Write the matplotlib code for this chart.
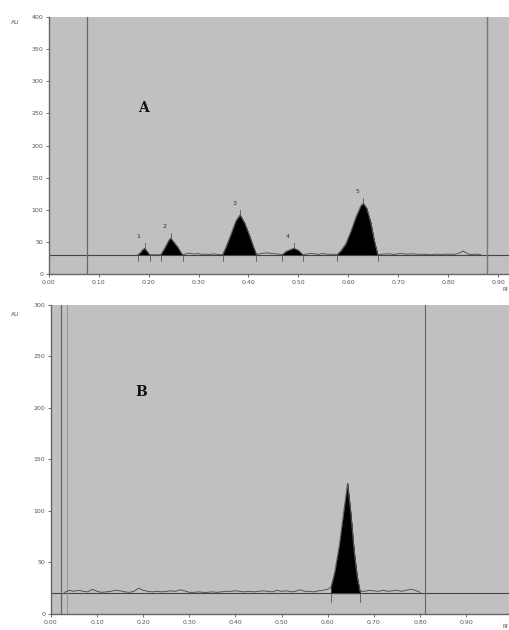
import matplotlib
matplotlib.use("Agg")
import matplotlib.pyplot as plt
import numpy as np

# ---------------- Data ----------------
# Panel A densitogram trace (Rf, AU)
a_x = [0.178, 0.183, 0.188, 0.192, 0.197, 0.202,
       0.224, 0.232, 0.240, 0.244, 0.250, 0.258, 0.265, 0.268,
       0.275, 0.282, 0.290, 0.298, 0.306, 0.314, 0.322, 0.330, 0.338,
       0.348, 0.355, 0.365, 0.375, 0.383, 0.392, 0.402, 0.410, 0.416,
       0.422, 0.430, 0.438, 0.446, 0.454, 0.462,
       0.467, 0.475, 0.485, 0.491, 0.500, 0.509,
       0.516, 0.524, 0.532, 0.540, 0.548, 0.556, 0.564, 0.572,
       0.577, 0.585, 0.595, 0.605, 0.615, 0.625, 0.630, 0.637, 0.645, 0.652, 0.659,
       0.668, 0.680, 0.692, 0.704, 0.716, 0.728, 0.740, 0.752, 0.764, 0.776,
       0.788, 0.800, 0.812, 0.820, 0.826, 0.830, 0.834, 0.840, 0.848, 0.856, 0.865]
a_y = [30, 33, 38, 40, 35, 30,
       30, 40, 52, 56, 50, 42, 33, 30,
       31.5, 32.5, 31, 32, 30.5, 31, 30.5, 31.5, 30.5,
       30, 42, 62, 83, 92, 80, 60, 42, 30,
       31.5, 32.5, 33, 32, 31.5, 31,
       30, 35, 38.5, 40, 37, 30,
       31, 32, 31.5, 30.5, 32, 31, 30.5, 31,
       30, 36, 47, 66, 88, 106, 110, 102, 80, 52, 30,
       31, 31.5, 30.5, 32, 31, 31.5, 30.5, 31, 30, 31,
       30.5, 31, 30.5, 32, 34, 36, 34, 31, 30.5, 31, 30.5]
a_peaks_lo = [0.178, 0.224, 0.348, 0.467, 0.577]
a_peaks_hi = [0.202, 0.268, 0.416, 0.509, 0.659]
a_peaks_top = [0.192, 0.244, 0.383, 0.491, 0.630]
a_peaks_h = [40, 56, 92, 40, 110]
a_peak_labels = ["1", "2", "3", "4", "5"]
a_baseline = 30

# Panel B trace
b_noise_x = [0.03, 0.04, 0.05, 0.06, 0.07, 0.08, 0.09, 0.10, 0.11, 0.12, 0.13, 0.14,
             0.15, 0.16, 0.17, 0.18, 0.19, 0.20, 0.21, 0.22, 0.23, 0.24, 0.25, 0.26,
             0.27, 0.28, 0.29, 0.30, 0.31, 0.32, 0.33, 0.34, 0.35, 0.36, 0.37, 0.38,
             0.39, 0.40, 0.41, 0.42, 0.43, 0.44, 0.45, 0.46, 0.47, 0.48, 0.49, 0.50,
             0.51, 0.52, 0.53, 0.54, 0.55, 0.56, 0.57, 0.58, 0.59, 0.60,
             0.607, 0.615, 0.625, 0.635, 0.643, 0.650, 0.657, 0.664, 0.670,
             0.68, 0.69, 0.70, 0.71, 0.72, 0.73, 0.74, 0.75, 0.76, 0.77, 0.78, 0.79, 0.80]
b_noise_y = [21, 23, 22, 23, 22, 21.5, 24, 22, 21, 21.5, 22, 23,
             22.5, 21.5, 21, 22, 25, 23, 22, 21.5, 22, 21.5, 22, 22.5,
             22, 23.5, 22.5, 21, 21, 21.5, 21, 21, 21.5, 21, 21.5, 22,
             22, 22.5, 22, 21.5, 22, 21.5, 22, 22.5, 22, 21.5, 23, 22,
             22.5, 21.5, 22, 23.5, 22, 22, 21.5, 22.5, 23, 24,
             26, 40, 66, 100, 127, 98, 62, 36, 22,
             22, 23, 22.5, 22, 23, 22, 22.5, 23, 22, 23, 24, 23, 21]
b_peak_lo, b_peak_hi = 0.607, 0.670
b_baseline = 20

a_xticks = [0.00, 0.10, 0.20, 0.30, 0.40, 0.50, 0.60, 0.70, 0.80, 0.90]
a_yticks = [0, 50, 100, 150, 200, 250, 300, 350, 400]
b_xticks = [0.00, 0.10, 0.20, 0.30, 0.40, 0.50, 0.60, 0.70, 0.80, 0.90]
b_yticks = [0, 50, 100, 150, 200, 250, 300]

# ---------------- Figure ----------------
fig = plt.figure(figsize=(5.09, 6.30), dpi=100)
bg = "#c0c0c0"
tickc = "#555555"

axA = fig.add_axes([0.096, 0.565, 0.904, 0.408])
axB = fig.add_axes([0.100, 0.0254, 0.900, 0.4906])

def style(ax, xlim, ylim, xt, yt):
    ax.set_facecolor(bg)
    ax.set_xlim(*xlim)
    ax.set_ylim(*ylim)
    ax.set_xticks(xt)
    ax.set_xticklabels([f"{v:.2f}" for v in xt])
    ax.set_yticks(yt)
    ax.set_yticklabels([str(v) for v in yt])
    ax.tick_params(labelsize=4.5, colors=tickc, length=2.5, width=0.6, pad=1.5)
    for s in ["top", "right"]:
        ax.spines[s].set_visible(False)
    for s in ["left", "bottom"]:
        ax.spines[s].set_color("#666666")
        ax.spines[s].set_linewidth(1.0)

style(axA, (0, 0.922), (0, 400), a_xticks, a_yticks)
style(axB, (0, 0.993), (0, 300), b_xticks, b_yticks)

# Panel A
ax = axA
ax.axhline(a_baseline, color="#444444", lw=0.8)
ax.axvline(0.076, color="#666666", lw=0.9)
ax.axvline(0.878, color="#777777", lw=1.0)
ax.plot(a_x, a_y, color="#555555", lw=0.7)
ax_arr_x = np.array(a_x); ax_arr_y = np.array(a_y)
for lo, hi, top, h, lab in zip(a_peaks_lo, a_peaks_hi, a_peaks_top, a_peaks_h, a_peak_labels):
    m = (ax_arr_x >= lo) & (ax_arr_x <= hi)
    ax.fill_between(ax_arr_x[m], a_baseline, ax_arr_y[m], color="black", lw=0.3, edgecolor="black")
    ax.plot([lo, lo], [a_baseline, 21], color="#444444", lw=0.5)
    ax.plot([hi, hi], [a_baseline, 21], color="#444444", lw=0.5)
    ax.plot([top, top], [h, h + 8], color="#444444", lw=0.5)
    ax.text(top - 0.012, h + 14, lab, fontsize=4.5, color="#333333", ha="center", va="bottom")
ax.text(0.19, 258, "A", fontsize=10, fontweight="bold", family="DejaVu Serif",
        ha="center", va="center", color="#111111")

# Panel B
ax = axB
ax.axhline(b_baseline, color="#444444", lw=0.8)
ax.axvline(0.022, color="#666666", lw=0.9)
ax.axvline(0.035, color="#999999", lw=0.8)
ax.axvline(0.81, color="#666666", lw=0.8)
ax.plot(b_noise_x, b_noise_y, color="#555555", lw=0.7)
bx = np.array(b_noise_x); by = np.array(b_noise_y)
m = (bx >= b_peak_lo) & (bx <= b_peak_hi)
ax.fill_between(bx[m], b_baseline, by[m], color="black", lw=0.3, edgecolor="black")
ax.plot([b_peak_lo, b_peak_lo], [b_baseline, 12], color="#444444", lw=0.5)
ax.plot([b_peak_hi, b_peak_hi], [b_baseline, 12], color="#444444", lw=0.5)
ax.text(0.195, 215, "B", fontsize=10, fontweight="bold", family="DejaVu Serif",
        ha="center", va="center", color="#111111")

# AU and Rf labels
fig.text(15 / 509, 1 - 23 / 630, "AU", fontsize=4.3, color=tickc, ha="center", va="center")
fig.text(15 / 509, 1 - 314 / 630, "AU", fontsize=4.3, color=tickc, ha="center", va="center")
fig.text(505 / 509, 1 - 290 / 630, "Rf", fontsize=4.0, color=tickc, ha="center", va="center")
fig.text(505 / 509, 1 - 627 / 630, "Rf", fontsize=4.0, color=tickc, ha="center", va="center")

fig.savefig("out.png", dpi=100, facecolor="white")
